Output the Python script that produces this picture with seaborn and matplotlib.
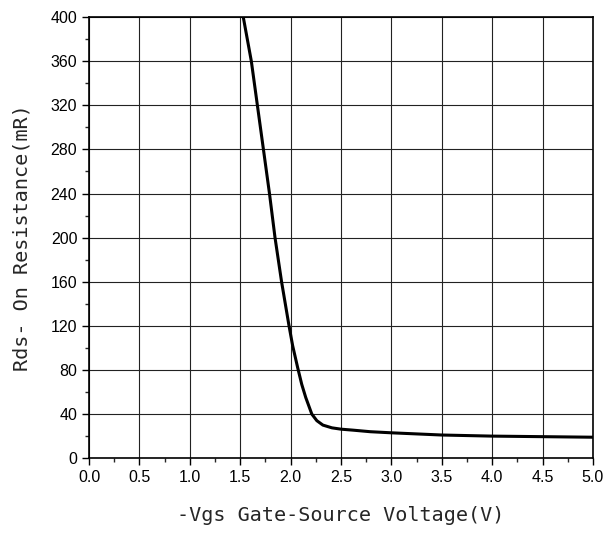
import numpy as np
import pandas as pd
import seaborn as sns
import matplotlib.pyplot as plt
from matplotlib.ticker import MultipleLocator

# values
vgs = [1.53, 1.61, 1.67, 1.73, 1.79, 1.845, 1.91, 1.984, 2.02, 2.07, 2.11,
       2.15, 2.21, 2.26, 2.32, 2.41, 2.5, 2.62, 2.79, 3.0, 3.5, 4.0, 4.5, 5.0]
rds = [400, 360, 320, 280, 240, 200, 160, 120, 102, 82, 67,
       55, 40, 34, 30, 27.5, 26.3, 25.4, 24, 23, 21, 20, 19.5, 19]

x_ticks = [0.0, 0.5, 1.0, 1.5, 2.0, 2.5, 3.0, 3.5, 4.0, 4.5, 5.0]
y_ticks = [0, 40, 80, 120, 160, 200, 240, 280, 320, 360, 400]

df = pd.DataFrame({'Vgs': vgs, 'Rds': rds})

sns.set_style('ticks')
plt.rcParams['font.family'] = ['Liberation Sans Narrow', 'Liberation Sans', 'DejaVu Sans']

fig = plt.figure(figsize=(6.06, 5.34), dpi=100)
ax = fig.add_axes([0.147, 0.142, 0.8315, 0.826])

sns.lineplot(data=df, x='Vgs', y='Rds', color='black', linewidth=2.2, ax=ax)

ax.set_xlim(0, 5)
ax.set_ylim(0, 400)
ax.set_xticks(x_ticks)
ax.set_yticks(y_ticks)
ax.set_xticklabels(["{:.1f}".format(v) for v in x_ticks])
ax.set_yticklabels([str(v) for v in y_ticks])
ax.xaxis.set_minor_locator(MultipleLocator(0.25))
ax.yaxis.set_minor_locator(MultipleLocator(20))
ax.tick_params(which='major', direction='out', length=5, width=1, labelsize=11.5, colors='black')
ax.tick_params(which='minor', direction='out', length=3, width=1)
ax.grid(True, which='major', color='#222222', linewidth=0.8)

for sp in ax.spines.values():
    sp.set_color('black')
    sp.set_linewidth(1.2)

ax.set_xlabel('-Vgs Gate-Source Voltage(V)', family=['DejaVu Sans Mono'], fontsize=14.5, labelpad=15)
ax.set_ylabel('Rds- On Resistance(mR)', family=['DejaVu Sans Mono'], fontsize=14.5, labelpad=14)

fig.savefig('out.png', dpi=100)
